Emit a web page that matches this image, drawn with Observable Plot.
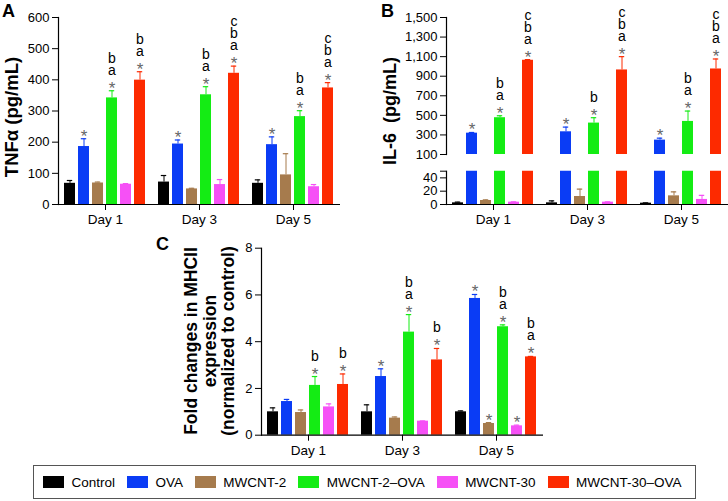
<!DOCTYPE html>
<html>
<head>
<meta charset="utf-8">
<script src="https://cdn.jsdelivr.net/npm/d3@7"></script>
<script src="https://cdn.jsdelivr.net/npm/@observablehq/plot@0.6"></script>
<style>
  body { margin: 0; background: #fff; font-family: "Liberation Sans", Arial, sans-serif; }
  #root { position: relative; width: 728px; height: 501px; overflow: hidden; background: #fff; }
  .abs { position: absolute; }
  .ylab { position: absolute; transform: translate(-50%, -50%) rotate(-90deg); white-space: pre; font-weight: bold; text-align: center; color: #000; }
  .letter { position: absolute; font-weight: bold; font-size: 18px; line-height: 1; color: #000; }
  #legend { position: absolute; left: 33px; top: 465px; width: 663px; height: 34px; box-sizing: border-box; border: 1px solid #555; display: flex; align-items: center; padding-left: 9px; gap: 11.9px; font-size: 13.5px; color: #000; }
  #legend .item { display: flex; align-items: center; gap: 7.5px; white-space: nowrap; }
  #legend .sw { width: 21px; height: 12px; display: inline-block; }
</style>
</head>
<body>
<div id="root"></div>
<script>
// ---------- data ----------
const days = ["Day 1", "Day 3", "Day 5"];
const groups = ["Control", "OVA", "MWCNT-2", "MWCNT-2–OVA", "MWCNT-30", "MWCNT-30–OVA"];
const colors = ["#000000", "#0a3cf5", "#a67b4d", "#14ec14", "#f650f6", "#fd2a00"];

// Panel A: TNFα (pg/mL); rows = groups, columns = days
const tnfMean = [[68, 72, 68], [186, 194, 192], [69, 50, 95], [342, 352, 282], [65, 64, 57], [399, 421, 374]];
const tnfErr  = [[9, 21, 11], [25, 13, 25], [3, 2, 68], [23, 26, 19], [2, 16, 7], [27, 23, 17]];
const tnfSig  = [["", "", ""], ["*", "*", "*"], ["", "", ""], ["*ab", "*ab", "*ab"], ["", "", ""], ["*ab", "*abc", "*abc"]];
const tnfTicks = [0, 100, 200, 300, 400, 500, 600];

// Panel B: IL-6 (pg/mL)
const il6Mean = [[2.5, 2.5, 2], [318, 332, 247], [6, 12, 13], [476, 421, 438], [3.5, 3.5, 7.6], [1063, 964, 974]];
const il6Err  = [[1, 3, 0.5], [7, 48, 20], [1, 11, 6], [20, 55, 106], [0.5, 0.5, 6], [7, 136, 102]];
const il6Sig  = [["", "", ""], ["*", "*", "*"], ["", "", ""], ["*ab", "*b", "*ab"], ["", "", ""], ["*abc", "*abc", "*abc"]];
const il6UpperTicks = [100, 300, 500, 700, 900, 1100, 1300, 1500];
const il6LowerTicks = [0, 20, 40, 50];

// Panel C: fold changes in MHCII expression
const mhcMean = [[1.0, 1.0, 1.0], [1.44, 2.51, 5.85], [0.97, 0.73, 0.5], [2.13, 4.41, 4.64], [1.21, 0.6, 0.4], [2.17, 3.22, 3.35]];
const mhcErr  = [[0.17, 0.3, 0.04], [0.09, 0.33, 0.17], [0.11, 0.05, 0.04], [0.38, 0.75, 0.08], [0.13, 0.01, 0.03], [0.45, 0.49, 0.02]];
const mhcSig  = [["", "", ""], ["", "*", "*"], ["", "", "*"], ["*b", "*ab", "*ab"], ["", "", "*"], ["*b", "*b", "*ab"]];
const mhcTicks = [0, 2, 4, 6, 8];

// ---------- helpers ----------
function makeRows(mean, err, sig) {
  return groups.flatMap((g, gi) => days.map((d, di) => ({
    group: g, day: d, mean: mean[gi][di], err: err[gi][di], sig: sig[gi][di]
  })));
}
const errTop = d => d.mean + d.err;

function barMarks(rows, {clip = false, notes = true} = {}) {
  const marks = [
    Plot.barY(rows, {fx: "day", x: "group", y: "mean", fill: "group", clip}),
    Plot.ruleX(rows, {fx: "day", x: "group", y1: "mean", y2: errTop, stroke: "group", strokeWidth: 1, clip}),
    Plot.tickY(rows, {fx: "day", x: "group", y: errTop, stroke: "group", strokeWidth: 1.2, insetLeft: 2.8, insetRight: 2.8, clip})
  ];
  if (notes) {
    marks.push(Plot.text(rows.filter(d => d.sig), {
      fx: "day", x: "group", y: errTop, text: () => "*", fill: "#666", fontSize: 17, lineAnchor: "bottom", dy: 3
    }));
    marks.push(Plot.text(rows.filter(d => d.sig.length > 1), {
      fx: "day", x: "group", y: errTop, text: d => d.sig.slice(1).split("").reverse().join("\n"),
      fill: "#000", fontSize: 14, lineAnchor: "bottom", lineHeight: 0.86, dy: -16
    }));
  }
  return marks;
}

const baseStyle = {fontFamily: "'Liberation Sans', Arial, sans-serif", fontSize: "13px", color: "#000", background: "transparent", overflow: "visible"};
const xScale = {domain: groups, paddingInner: 0.2, paddingOuter: 0.42, axis: null};
const colorScale = {domain: groups, range: colors};
const yAxisOpts = {tickSize: 6, tickPadding: 3, fontSize: 13, label: null};
const fxAxisOpts = {anchor: "bottom", tickSize: 6, tickPadding: 4, fontSize: 13.5, label: null};

function place(svg, left, topPx) {
  svg.classList.add("abs");
  svg.style.left = left + "px";
  svg.style.top = topPx + "px";
  document.getElementById("root").appendChild(svg);
}

// ---------- Panel A ----------
const rowsA = makeRows(tnfMean, tnfErr, tnfSig);
place(Plot.plot({
  width: 360, height: 240,
  marginLeft: 58, marginRight: 20, marginTop: 17, marginBottom: 36,
  style: baseStyle,
  fx: {domain: days, padding: 0},
  x: xScale,
  y: {domain: [0, 600]},
  color: colorScale,
  marks: [
    ...barMarks(rowsA),
    Plot.ruleY([0], {stroke: "#000", strokeWidth: 1.2}),
    Plot.frame({anchor: "left", facetAnchor: "left", stroke: "#000", strokeWidth: 1.2}),
    Plot.axisY({ticks: tnfTicks, ...yAxisOpts}),
    Plot.axisFx(fxAxisOpts)
  ]
}), 0, 0);

// ---------- Panel B (broken axis: two stacked plots) ----------
const rowsB = makeRows(il6Mean, il6Err, il6Sig);
place(Plot.plot({
  width: 368, height: 162,
  marginLeft: 86, marginRight: 0, marginTop: 17, marginBottom: 8,
  style: baseStyle,
  fx: {domain: days, padding: 0, axis: null},
  x: xScale,
  y: {domain: [100, 1500]},
  color: colorScale,
  marks: [
    ...barMarks(rowsB, {clip: true}),
    Plot.frame({anchor: "left", facetAnchor: "left", stroke: "#000", strokeWidth: 1.2}),
    Plot.axisY({ticks: il6UpperTicks, tickFormat: d3.format(","), ...yAxisOpts})
  ]
}), 360, 0);

place(Plot.plot({
  width: 368, height: 80,
  marginLeft: 86, marginRight: 0, marginTop: 10.7, marginBottom: 36,
  style: baseStyle,
  fx: {domain: days, padding: 0},
  x: xScale,
  y: {domain: [0, 50]},
  color: colorScale,
  marks: [
    ...barMarks(rowsB, {clip: true, notes: false}),
    Plot.ruleY([0], {stroke: "#000", strokeWidth: 1.2}),
    Plot.frame({anchor: "left", facetAnchor: "left", stroke: "#000", strokeWidth: 1.2}),
    Plot.axisY({ticks: il6LowerTicks, tickFormat: d => d === 50 ? "" : d, ...yAxisOpts}),
    Plot.axisFx(fxAxisOpts)
  ]
}), 360, 160);

// ---------- Panel C ----------
const rowsC = makeRows(mhcMean, mhcErr, mhcSig);
place(Plot.plot({
  width: 400, height: 245,
  marginLeft: 111, marginRight: 7, marginTop: 22.7, marginBottom: 35.3,
  style: baseStyle,
  fx: {domain: days, padding: 0},
  x: xScale,
  y: {domain: [0, 8]},
  color: colorScale,
  marks: [
    ...barMarks(rowsC),
    Plot.ruleY([0], {stroke: "#000", strokeWidth: 1.2}),
    Plot.frame({anchor: "left", facetAnchor: "left", stroke: "#000", strokeWidth: 1.2}),
    Plot.axisY({ticks: mhcTicks, ...yAxisOpts}),
    Plot.axisFx(fxAxisOpts)
  ]
}), 150, 225);

// ---------- titles, axis labels, legend ----------
const root = document.getElementById("root");
function addDiv(cls, text, css) {
  const el = document.createElement("div");
  el.className = cls;
  el.textContent = text;
  Object.assign(el.style, css);
  root.appendChild(el);
  return el;
}
addDiv("letter", "A", {left: "2px", top: "2px"});
addDiv("letter", "B", {left: "381px", top: "2px"});
addDiv("letter", "C", {left: "156px", top: "235px"});
addDiv("ylab", "TNFα (pg/mL)", {left: "12px", top: "117px", fontSize: "18.5px"});
addDiv("ylab", "IL-6  (pg/mL)", {left: "390px", top: "111px", fontSize: "18px"});
addDiv("ylab", "Fold changes in MHCII\nexpression\n(normalized to control)", {left: "210px", top: "341px", fontSize: "17.5px", lineHeight: "18.5px"});

const legend = document.createElement("div");
legend.id = "legend";
groups.forEach((g, i) => {
  const item = document.createElement("span");
  item.className = "item";
  const sw = document.createElement("span");
  sw.className = "sw";
  sw.style.background = colors[i];
  const label = document.createElement("span");
  label.textContent = g;
  item.appendChild(sw);
  item.appendChild(label);
  legend.appendChild(item);
});
root.appendChild(legend);
</script>
</body>
</html>
